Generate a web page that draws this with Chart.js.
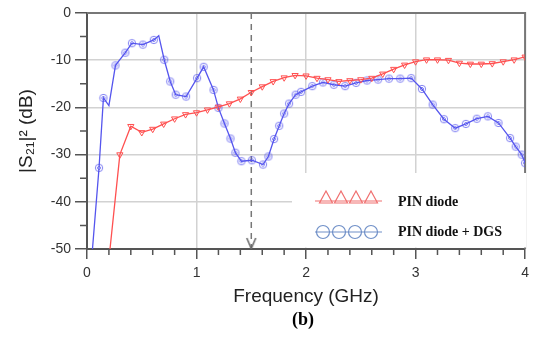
<!DOCTYPE html>
<html>
<head>
<meta charset="utf-8">
<script src="https://cdn.jsdelivr.net/npm/chart.js@4.4.1/dist/chart.umd.min.js"></script>
<style>
html, body { margin: 0; padding: 0; background: #fff; }
#wrap { width: 535px; height: 338px; position: relative; }
</style>
</head>
<body>
<div id="wrap"><canvas id="s21Chart"></canvas></div>
<script>
'use strict';

// PIN diode (GHz, dB)
let pinFreq = [0.21, 0.3, 0.4, 0.5, 0.6, 0.7, 0.8, 0.9, 1.0, 1.1, 1.2, 1.3, 1.4, 1.5, 1.6, 1.7, 1.8, 1.9, 2.0,
    2.1, 2.2, 2.3, 2.4, 2.5, 2.6, 2.7, 2.8, 2.9, 3.0, 3.1, 3.2, 3.3, 3.4, 3.5, 3.6, 3.7, 3.8, 3.9, 4.0];
let pinS21 = [-50, -30, -24, -25.3, -24.6, -23.5, -22.4, -21.5, -21.1, -20.5, -19.9, -19.2, -18.2, -16.8, -15.6,
    -14.5, -13.7, -13.2, -13.3, -13.8, -14.1, -14.5, -14.3, -14.1, -13.8, -12.9, -11.9, -11.0, -10.3, -9.9,
    -9.9, -10.0, -10.6, -10.8, -10.8, -10.7, -10.3, -9.9, -9.3];

// PIN diode + DGS (GHz, dB)
let dgsFreq = [0.05, 0.11, 0.15, 0.2, 0.26, 0.35, 0.41, 0.51, 0.61, 0.655, 0.705, 0.76, 0.81, 0.905, 1.005,
    1.065, 1.155, 1.2, 1.255, 1.31, 1.355, 1.41, 1.505, 1.607, 1.656, 1.708, 1.755, 1.8, 1.845, 1.905, 1.955,
    2.057, 2.154, 2.254, 2.357, 2.457, 2.557, 2.658, 2.757, 2.86, 2.96, 3.058, 3.156, 3.259, 3.362, 3.459,
    3.559, 3.66, 3.757, 3.863, 3.914, 3.969, 4.0];
let dgsS21 = [-50, -32.8, -18.0, -19.6, -11.1, -8.4, -6.4, -6.7, -5.7, -4.8, -9.9, -14.5, -17.3, -17.7, -13.8,
    -11.4, -16.3, -20.1, -23.4, -26.6, -29.6, -31.4, -31.2, -32.1, -30.4, -26.7, -23.9, -21.3, -19.2, -17.3,
    -16.7, -15.5, -14.7, -15.2, -15.5, -14.8, -14.3, -14.1, -13.9, -13.9, -13.8, -16.1, -19.4, -22.5, -24.4,
    -23.5, -22.4, -21.9, -23.3, -26.5, -28.3, -30.0, -31.8];
// trace vertices drawn without a symbol
let dgsBends = [0, 3, 9];

// dashed marker at 1.5 GHz
let markFreq = [1.5, 1.5];
let markS21 = [0, -50];

let labels = ['PIN diode', 'PIN diode + DGS'];

const pinColor = '#ff5050';
const dgsColor = '#5555ee';
const sans = '"Liberation Sans", Arial, sans-serif';
const serif = '"Liberation Serif", "Times New Roman", serif';

function toPoints(xs, ys) {
    return xs.map((v, i) => ({x: v, y: ys[i]}));
}

function dgsSymbol() {
    let c = document.createElement('canvas');
    c.width = 10;
    c.height = 10;
    let g = c.getContext('2d');
    g.strokeStyle = 'rgba(85,85,238,0.8)';
    g.lineWidth = 0.9;
    g.beginPath();
    g.arc(5, 5, 3.7, 0, 2 * Math.PI);
    g.stroke();
    g.beginPath();
    g.moveTo(5, 3);
    g.lineTo(7, 5);
    g.lineTo(5, 7);
    g.lineTo(3, 5);
    g.closePath();
    g.stroke();
    return c;
}

function arrowHead() {
    let c = document.createElement('canvas');
    c.width = 12;
    c.height = 24;
    let g = c.getContext('2d');
    g.strokeStyle = '#666';
    g.lineWidth = 1.5;
    g.beginPath();
    g.moveTo(1.5, 1);
    g.lineTo(6, 11.5);
    g.lineTo(10.5, 1);
    g.stroke();
    return c;
}

let extras = {
    id: 'extras',
    beforeDatasetsDraw(chart) {
        let {ctx, chartArea: a, scales: {x, y}} = chart;
        ctx.save();
        ctx.strokeStyle = '#777';
        ctx.lineWidth = 2;
        ctx.beginPath();
        ctx.moveTo(a.left, a.top);
        ctx.lineTo(a.right, a.top);
        ctx.lineTo(a.right, a.bottom);
        ctx.stroke();
        // minor ticks
        ctx.strokeStyle = '#555';
        ctx.lineWidth = 1.5;
        ctx.beginPath();
        for (let v = -45; v < 0; v += 10) {
            let py = y.getPixelForValue(v);
            ctx.moveTo(a.left - 7, py);
            ctx.lineTo(a.left, py);
        }
        for (let i = 1; i < 20; i++) {
            if (i % 5 === 0) continue;
            let px = x.getPixelForValue(i * 0.2);
            ctx.moveTo(px, a.bottom);
            ctx.lineTo(px, a.bottom + 6);
        }
        ctx.stroke();
        ctx.restore();
    },
    afterDatasetsDraw(chart) {
        let {ctx, chartArea: a} = chart;
        ctx.save();
        ctx.fillStyle = '#fff';
        ctx.fillRect(292, 173, a.right + 1 - 292, a.bottom - 1.5 - 173);

        // PIN diode row
        ctx.strokeStyle = '#f07070';
        ctx.lineWidth = 1.2;
        ctx.beginPath();
        ctx.moveTo(315, 201);
        ctx.lineTo(382, 201);
        ctx.stroke();
        for (let k = 0; k < 4; k++) {
            let cx = 326 + k * 15;
            ctx.beginPath();
            ctx.moveTo(cx, 191);
            ctx.lineTo(cx + 6.5, 203);
            ctx.lineTo(cx - 6.5, 203);
            ctx.closePath();
            ctx.stroke();
        }
        // DGS row
        ctx.strokeStyle = '#7090c8';
        ctx.beginPath();
        ctx.moveTo(315, 232);
        ctx.lineTo(382, 232);
        ctx.stroke();
        for (let k = 0; k < 4; k++) {
            ctx.beginPath();
            ctx.arc(323 + k * 16, 232, 6.5, 0, 2 * Math.PI);
            ctx.stroke();
        }
        ctx.fillStyle = '#111';
        ctx.font = 'bold 14px ' + serif;
        ctx.textBaseline = 'middle';
        ctx.textAlign = 'left';
        ctx.fillText(labels[0], 398, 202);
        ctx.fillText(labels[1], 398, 232);
        ctx.restore();
    },
    afterDraw(chart) {
        let ctx = chart.ctx;
        ctx.save();
        ctx.fillStyle = '#000';
        ctx.font = 'bold 18px ' + serif;
        ctx.textAlign = 'center';
        ctx.textBaseline = 'middle';
        ctx.fillText('(b)', 303, 320);
        ctx.restore();
    }
};

new Chart(document.querySelector('#s21Chart'), {
    type: 'line',
    data: {
        datasets: [
            {
                label: labels[0],
                data: toPoints(pinFreq, pinS21),
                borderColor: pinColor,
                borderWidth: 1.3,
                pointStyle: 'triangle',
                rotation: 180,
                pointRadius: (c) => c.dataIndex === 0 ? 0 : 3.6,
                pointBorderColor: pinColor,
                pointBackgroundColor: 'rgba(255,255,255,0)',
                pointBorderWidth: 1,
                tension: 0
            },
            {
                label: labels[1],
                data: toPoints(dgsFreq, dgsS21),
                borderColor: dgsColor,
                borderWidth: 1.3,
                pointStyle: dgsSymbol(),
                pointRadius: (c) => dgsBends.includes(c.dataIndex) ? 0 : 4,
                tension: 0
            },
            {
                label: 'marker',
                data: toPoints(markFreq, markS21),
                borderColor: '#777',
                borderWidth: 1.5,
                borderDash: [6, 5],
                pointStyle: arrowHead(),
                pointRadius: [0, 5],
                tension: 0
            }
        ]
    },
    options: {
        responsive: true,
        maintainAspectRatio: false,
        animation: false,
        layout: {padding: {left: 0, right: 8, top: 13, bottom: 30}},
        plugins: {
            legend: {display: false},
            tooltip: {enabled: false}
        },
        scales: {
            x: {
                type: 'linear',
                min: 0,
                max: 4,
                afterFit: (s) => { s.height = 59; },
                ticks: {
                    stepSize: 1,
                    padding: 6,
                    color: '#333',
                    font: {family: sans, size: 14}
                },
                grid: {
                    color: '#d2d2d2',
                    lineWidth: 1.5,
                    tickLength: 10,
                    tickColor: '#555',
                    tickWidth: 1.5
                },
                border: {color: '#555', width: 2},
                title: {
                    display: true,
                    text: 'Frequency (GHz)',
                    color: '#222',
                    font: {family: sans, size: 19},
                    padding: {top: 0, bottom: 0}
                }
            },
            y: {
                min: -50,
                max: 0,
                afterFit: (s) => { s.width = 87; },
                ticks: {
                    stepSize: 10,
                    padding: 4,
                    color: '#333',
                    font: {family: sans, size: 14}
                },
                grid: {
                    color: '#d2d2d2',
                    lineWidth: 1.5,
                    tickLength: 12,
                    tickColor: '#555',
                    tickWidth: 1.5
                },
                border: {color: '#555', width: 2},
                title: {
                    display: true,
                    text: '|S\u2082\u2081|\u00b2 (dB)',
                    color: '#222',
                    font: {family: sans, size: 19},
                    padding: {top: 15, bottom: 0}
                }
            }
        }
    },
    plugins: [extras]
});
</script>
</body>
</html>
